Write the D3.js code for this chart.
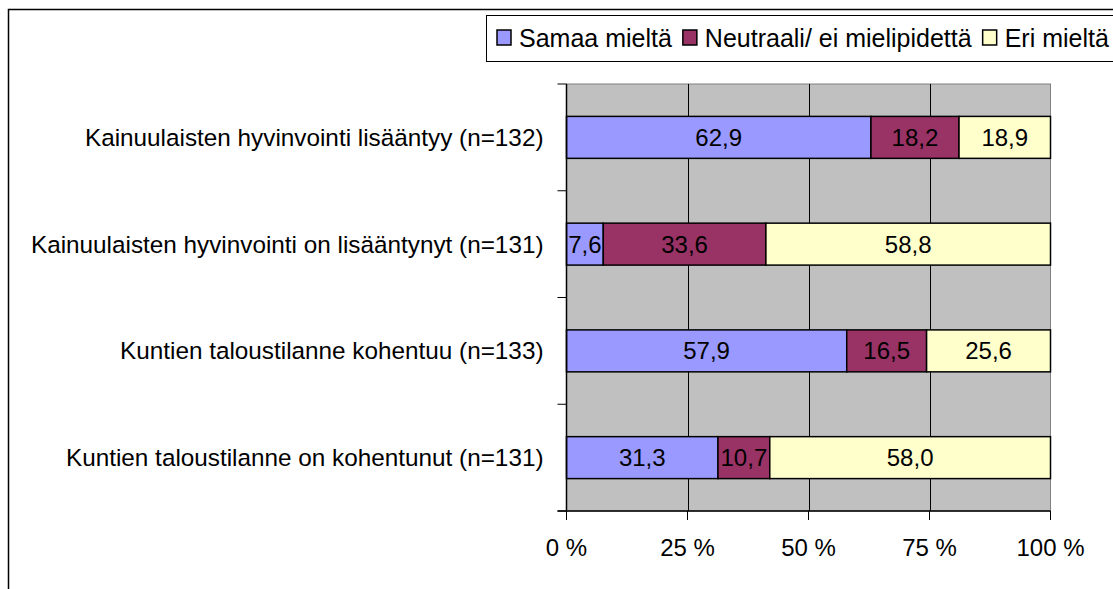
<!DOCTYPE html>
<html>
<head>
<meta charset="utf-8">
<script src="https://cdn.jsdelivr.net/npm/d3@7"></script>
<style>
  html, body { margin: 0; padding: 0; background: #fff; overflow: hidden; }
  text { font-family: "Liberation Sans", Arial, sans-serif; fill: #000; }
</style>
</head>
<body>
<script>
  const categories = [
    'Kainuulaisten hyvinvointi lisääntyy (n=132)',
    'Kainuulaisten hyvinvointi on lisääntynyt (n=131)',
    'Kuntien taloustilanne kohentuu (n=133)',
    'Kuntien taloustilanne on kohentunut (n=131)'
  ];
  const seriesNames = ['Samaa mieltä', 'Neutraali/ ei mielipidettä', 'Eri mieltä'];
  const samaa = [62.9, 7.6, 57.9, 31.3];
  const neutraali = [18.2, 33.6, 16.5, 10.7];
  const eri = [18.9, 58.8, 25.6, 58.0];
  const tickValues = [0, 25, 50, 75, 100];
  const colors = ['#9999FF', '#993366', '#FFFFCC'];

  const width = 1113;
  const height = 589;
  const plot = { left: 566.5, right: 1050.5, top: 84, bottom: 511 };
  const fontSize = 24.3;

  const rows = categories.map((c, i) => ({
    cat: c, 'Samaa mieltä': samaa[i], 'Neutraali/ ei mielipidettä': neutraali[i], 'Eri mieltä': eri[i]
  }));
  const stacked = d3.stack().keys(seriesNames)(rows);

  const svg = d3.select('body').append('svg')
    .attr('width', width)
    .attr('height', height);

  // outer chart frame (cut off at right and bottom)
  svg.append('rect')
    .attr('x', 8.5).attr('y', 9.5)
    .attr('width', 1300).attr('height', 800)
    .attr('fill', 'none').attr('stroke', '#000').attr('stroke-width', 1.5);

  const x = d3.scaleLinear().domain([0, 100]).range([plot.left, plot.right]);
  const y = d3.scaleBand().domain(categories)
    .range([plot.top, plot.bottom])
    .paddingInner(0.607).paddingOuter(0.3035);

  // plot area
  svg.append('rect')
    .attr('x', plot.left).attr('y', plot.top)
    .attr('width', plot.right - plot.left).attr('height', plot.bottom - plot.top)
    .attr('fill', '#C0C0C0').attr('stroke', '#808080').attr('stroke-width', 1);

  svg.append('g').selectAll('line')
    .data(tickValues.slice(1, -1))
    .join('line')
    .attr('x1', (d) => Math.round(x(d)) + 0.5).attr('x2', (d) => Math.round(x(d)) + 0.5)
    .attr('y1', plot.top).attr('y2', plot.bottom)
    .attr('stroke', '#000').attr('stroke-width', 1);

  // bars
  svg.append('g').selectAll('g')
    .data(stacked)
    .join('g')
    .attr('fill', (d, i) => colors[i])
    .selectAll('rect')
    .data((d) => d)
    .join('rect')
    .attr('x', (d) => x(d[0]))
    .attr('y', (d) => y(d.data.cat))
    .attr('width', (d) => x(d[1]) - x(d[0]))
    .attr('height', y.bandwidth())
    .attr('stroke', '#000')
    .attr('stroke-width', 1.5);

  // value labels
  svg.append('g').selectAll('g')
    .data(stacked)
    .join('g')
    .selectAll('text')
    .data((d) => d)
    .join('text')
    .attr('x', (d) => (x(d[0]) + x(d[1])) / 2)
    .attr('y', (d) => y(d.data.cat) + y.bandwidth() / 2)
    .attr('dy', '0.35em')
    .attr('text-anchor', 'middle')
    .attr('font-size', 24)
    .text((d) => d3.format('.1f')(d[1] - d[0]).replace('.', ','));

  // y axis
  const yAxis = svg.append('g').attr('transform', `translate(${plot.left},0)`);
  yAxis.append('line')
    .attr('y1', plot.top).attr('y2', plot.bottom)
    .attr('stroke', '#000').attr('stroke-width', 1.5);
  yAxis.selectAll('line.tick')
    .data(d3.range(categories.length + 1))
    .join('line')
    .attr('class', 'tick')
    .attr('x1', -9).attr('x2', 0)
    .attr('y1', (d) => plot.top + d * y.step())
    .attr('y2', (d) => plot.top + d * y.step())
    .attr('stroke', '#000').attr('stroke-width', 1);
  yAxis.selectAll('text')
    .data(categories)
    .join('text')
    .attr('x', -23)
    .attr('y', (d) => y(d) + y.bandwidth() / 2)
    .attr('dy', '0.35em')
    .attr('text-anchor', 'end')
    .attr('font-size', fontSize)
    .text((d) => d);

  // x axis
  const xAxis = svg.append('g').attr('transform', `translate(0,${plot.bottom})`);
  xAxis.append('line')
    .attr('x1', plot.left - 9).attr('x2', plot.right)
    .attr('stroke', '#000').attr('stroke-width', 1.5);
  xAxis.selectAll('line.tick')
    .data(tickValues)
    .join('line')
    .attr('class', 'tick')
    .attr('x1', (d) => x(d)).attr('x2', (d) => x(d))
    .attr('y1', 0).attr('y2', 9)
    .attr('stroke', '#000').attr('stroke-width', 1);
  xAxis.selectAll('text')
    .data(tickValues)
    .join('text')
    .attr('x', (d) => x(d))
    .attr('y', 37)
    .attr('dy', '0.35em')
    .attr('text-anchor', 'middle')
    .attr('font-size', 24)
    .text((d) => `${d} %`);

  // legend
  const legend = svg.append('g');
  legend.append('rect')
    .attr('x', 486.5).attr('y', 15.5)
    .attr('width', 800).attr('height', 46)
    .attr('fill', '#fff').attr('stroke', '#000').attr('stroke-width', 1);
  let lx = 497;
  seriesNames.forEach((name, i) => {
    legend.append('rect')
      .attr('x', lx).attr('y', 30)
      .attr('width', 14).attr('height', 15)
      .attr('fill', colors[i]).attr('stroke', '#000').attr('stroke-width', 1.5);
    const t = legend.append('text')
      .attr('x', lx + 22)
      .attr('y', 38)
      .attr('dy', '0.35em')
      .attr('font-size', 25)
      .text(name);
    lx += 22 + t.node().getComputedTextLength() + 11;
  });
</script>
</body>
</html>
